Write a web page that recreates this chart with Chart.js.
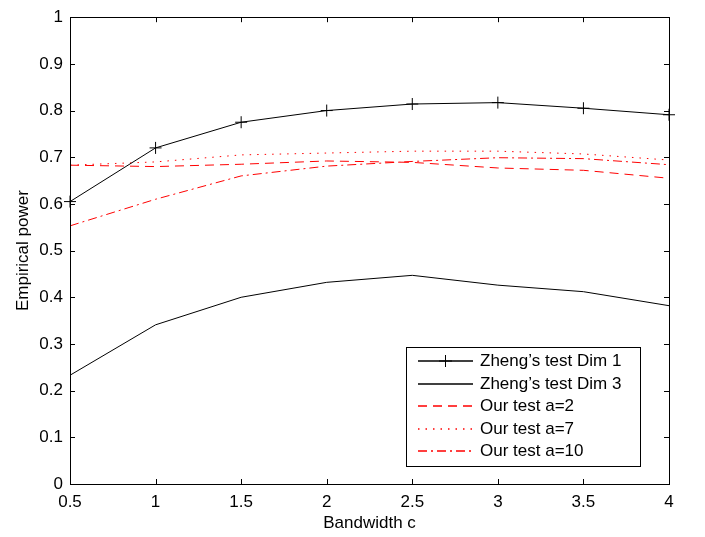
<!DOCTYPE html>
<html>
<head>
<meta charset="utf-8">
<script src="https://cdn.jsdelivr.net/npm/chart.js@4.4.0/dist/chart.umd.min.js"></script>
<style>
  html, body { margin: 0; padding: 0; background: #fff; }
  #wrap { width: 705px; height: 537px; }
</style>
</head>
<body>
<div id="wrap"><canvas id="chart" width="705" height="537"></canvas></div>
<script>
var bandwidth = [0.5, 1, 1.5, 2, 2.5, 3, 3.5, 4];
var zhengDim1 = [0.605, 0.720, 0.775, 0.800, 0.814, 0.817, 0.805, 0.791];
var zhengDim3 = [0.233, 0.341, 0.400, 0.432, 0.447, 0.426, 0.412, 0.382];
var ourA2 = [0.683, 0.680, 0.685, 0.692, 0.689, 0.677, 0.672, 0.655];
var ourA7 = [0.683, 0.690, 0.705, 0.709, 0.713, 0.713, 0.707, 0.694];
var ourA10 = [0.553, 0.610, 0.660, 0.681, 0.691, 0.699, 0.697, 0.684];
var xTicks = [0.5, 1, 1.5, 2, 2.5, 3, 3.5, 4];
var yTicks = [0, 0.1, 0.2, 0.3, 0.4, 0.5, 0.6, 0.7, 0.8, 0.9, 1];

var FONT = '"Liberation Sans", Arial, Helvetica, sans-serif';

function pts(vals) {
    return bandwidth.map(function (x, i) { return { x: x, y: vals[i] }; });
}

var series = [
    { label: "Zheng\u2019s test Dim 1", data: zhengDim1, color: 'rgb(0,0,0)', dash: [], marker: true },
    { label: "Zheng\u2019s test Dim 3", data: zhengDim3, color: 'rgb(0,0,0)', dash: [], marker: false },
    { label: "Our test a=2", data: ourA2, color: 'rgb(255,0,0)', dash: [9, 6], marker: false },
    { label: "Our test a=7", data: ourA7, color: 'rgb(255,0,0)', dash: [1.5, 6], marker: false },
    { label: "Our test a=10", data: ourA10, color: 'rgb(255,0,0)', dash: [9, 4, 2, 4], marker: false }
];

// matlab style box with inward ticks
var boxTicks = {
    id: 'boxTicks',
    afterDatasetsDraw: function (chart) {
        var ctx = chart.ctx, a = chart.chartArea;
        var xs = chart.scales.x, ys = chart.scales.y;
        var len = 5;
        ctx.save();
        ctx.setLineDash([]);
        ctx.strokeStyle = '#000';
        ctx.lineWidth = 1;
        ctx.beginPath();
        xTicks.forEach(function (v) {
            var px = Math.round(xs.getPixelForValue(v)) + 0.5;
            ctx.moveTo(px, a.bottom); ctx.lineTo(px, a.bottom - len);
            ctx.moveTo(px, a.top); ctx.lineTo(px, a.top + len);
        });
        yTicks.forEach(function (v) {
            var py = Math.round(ys.getPixelForValue(v)) + 0.5;
            ctx.moveTo(a.left, py); ctx.lineTo(a.left + len, py);
            ctx.moveTo(a.right, py); ctx.lineTo(a.right - len, py);
        });
        ctx.stroke();
        ctx.strokeRect(Math.round(a.left) + 0.5, Math.round(a.top) + 0.5,
            Math.round(a.right - a.left), Math.round(a.bottom - a.top));
        ctx.restore();
    }
};

// legend box inside the plot, lower right
var boxLegend = {
    id: 'boxLegend',
    afterDraw: function (chart) {
        var ctx = chart.ctx;
        var left = 406, top = 347, right = 640, bottom = 466;
        ctx.save();
        ctx.setLineDash([]);
        ctx.fillStyle = '#fff';
        ctx.fillRect(left, top, right - left, bottom - top);
        ctx.strokeStyle = '#000';
        ctx.lineWidth = 1;
        ctx.strokeRect(left + 0.5, top + 0.5, right - left, bottom - top);
        ctx.restore();
        series.forEach(function (s, i) {
            var yc = 361.5 + i * 22.5;
            var y = Math.floor(yc);
            ctx.save();
            ctx.lineWidth = 1.3;
            ctx.setLineDash(s.dash);
            ctx.strokeStyle = s.color;
            ctx.beginPath();
            ctx.moveTo(418, y);
            ctx.lineTo(473, y);
            ctx.stroke();
            ctx.restore();
            if (s.marker) {
                ctx.save();
                ctx.strokeStyle = s.color;
                ctx.lineWidth = 1;
                ctx.beginPath();
                ctx.moveTo(445.5, y - 6); ctx.lineTo(445.5, y + 6);
                ctx.moveTo(439, y); ctx.lineTo(452, y);
                ctx.stroke();
                ctx.restore();
            }
            ctx.save();
            ctx.font = '17px ' + FONT;
            ctx.textBaseline = 'middle';
            ctx.fillStyle = '#000';
            ctx.fillText(s.label, 480, yc);
            ctx.restore();
        });
    }
};

var ctx = document.getElementById('chart').getContext('2d');
var chart = new Chart(ctx, {
    type: 'line',
    data: {
        datasets: series.map(function (s) {
            return {
                label: s.label,
                data: pts(s.data),
                borderColor: s.color,
                backgroundColor: s.color,
                borderWidth: 1,
                borderDash: s.dash,
                pointStyle: s.marker ? 'cross' : 'circle',
                pointRadius: s.marker ? 6 : 0,
                pointBorderWidth: 1,
                pointBorderColor: s.color,
                tension: 0,
                fill: false,
                clip: false
            };
        })
    },
    options: {
        responsive: false,
        animation: false,
        layout: { padding: { top: 13, right: 36, left: 0, bottom: 0 } },
        scales: {
            x: {
                type: 'linear',
                min: 0.5,
                max: 4,
                afterBuildTicks: function (scale) {
                    scale.ticks = xTicks.map(function (v) { return { value: v }; });
                },
                afterFit: function (scale) { scale.height = 53; },
                grid: { display: false, drawTicks: false },
                border: { display: false },
                ticks: {
                    padding: 8,
                    color: '#000',
                    font: { family: FONT, size: 17 },
                    maxRotation: 0,
                    callback: function (v) { return String(v); }
                },
                title: {
                    display: true,
                    text: 'Bandwidth c',
                    color: '#000',
                    font: { family: FONT, size: 17 },
                    padding: { top: 0, bottom: 3 }
                }
            },
            y: {
                type: 'linear',
                min: 0,
                max: 1,
                afterBuildTicks: function (scale) {
                    scale.ticks = yTicks.map(function (v) { return { value: v }; });
                },
                afterFit: function (scale) { scale.width = 70; },
                grid: { display: false, drawTicks: false },
                border: { display: false },
                ticks: {
                    padding: 7,
                    color: '#000',
                    font: { family: FONT, size: 17 },
                    callback: function (v) { return String(Math.round(v * 10) / 10); }
                },
                title: {
                    display: true,
                    text: 'Empirical power',
                    color: '#000',
                    font: { family: FONT, size: 17 },
                    padding: { top: 13, bottom: 0 }
                }
            }
        },
        plugins: {
            legend: { display: false },
            tooltip: { enabled: false }
        }
    },
    plugins: [boxTicks, boxLegend]
});
</script>
</body>
</html>
